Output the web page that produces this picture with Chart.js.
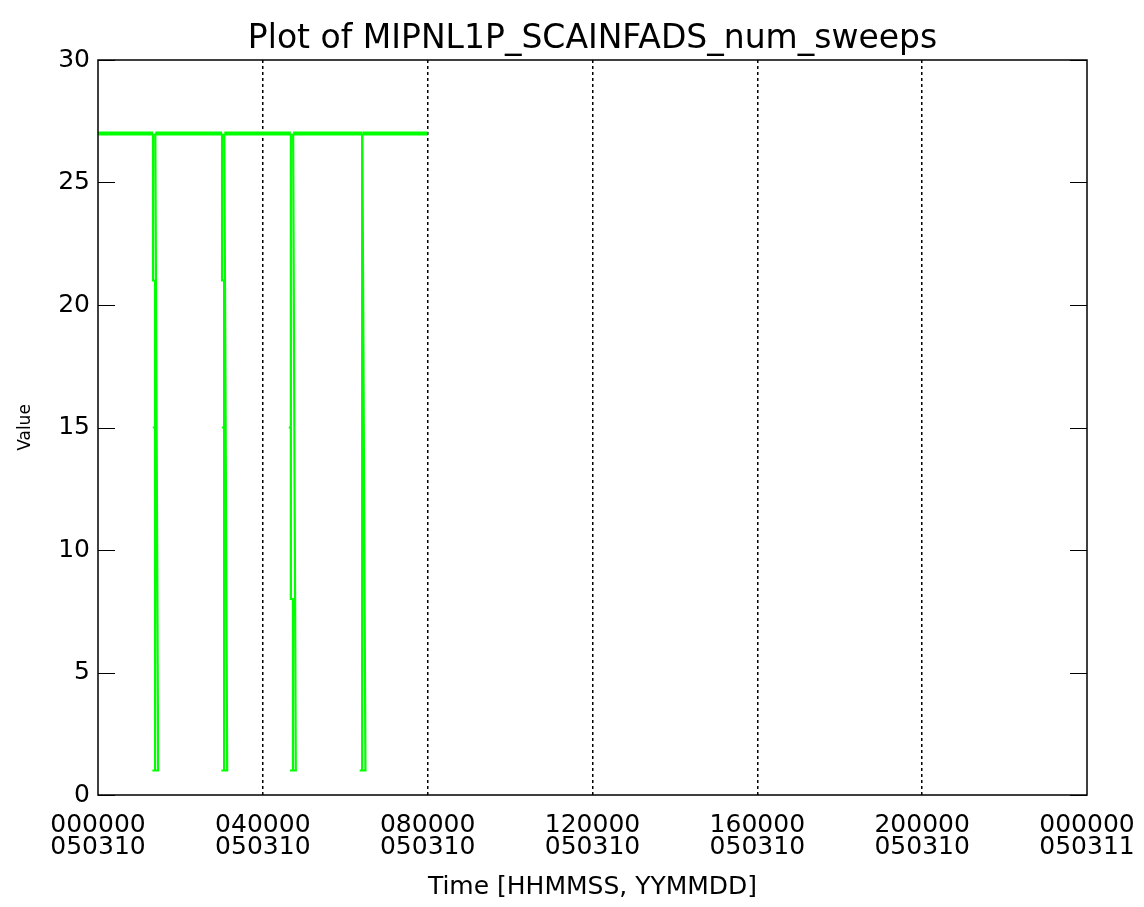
<!DOCTYPE html>
<html>
<head>
<meta charset="utf-8">
<script src="https://cdn.jsdelivr.net/npm/chart.js@4"></script>
<style>
  body { margin: 0; background: #fff; }
</style>
</head>
<body>
<canvas id="graphCanvas" width="1144" height="907"></canvas>
<script>
// time in hours since 000000 050310, value of num_sweeps
var sweepTimes = [
    0.00,
    1.335, 1.335, 1.385, 1.385, 1.33, 1.385, 1.385, 1.32, 1.46, 1.39,
    3.01, 3.01, 3.06, 3.06, 3.005, 3.06, 3.06, 2.995, 3.135, 3.065,
    4.68, 4.68, 4.63, 4.68, 4.68, 4.73, 4.73, 4.66, 4.80, 4.735,
    6.41, 6.41, 6.47, 6.41, 6.41, 6.35, 6.49, 6.415,
    8.00
];
var sweepValues = [
    27,
    27, 21, 21, 15, 15, 15, 1, 1, 1, 27,
    27, 21, 21, 15, 15, 15, 1, 1, 1, 27,
    27, 15, 15, 15, 8, 8, 1, 1, 1, 27,
    27, 15, 15, 15, 1, 1, 1, 27,
    27
];

var xTicks = [0, 4, 8, 12, 16, 20, 24];
var xTickTime = ['000000', '040000', '080000', '120000', '160000', '200000', '000000'];
var xTickDate = ['050310', '050310', '050310', '050310', '050310', '050310', '050311'];
var yTicks = [0, 5, 10, 15, 20, 25, 30];

var points = [];
for (var i in sweepTimes) {
    points.push({ x: sweepTimes[i], y: sweepValues[i] });
}

// box round the plot plus inward tick marks on both value sides
var framePlugin = {
    id: 'frame',
    afterDraw: function (chart) {
        var ctx = chart.ctx;
        var a = chart.chartArea;
        var ys = chart.scales.y;
        ctx.save();
        ctx.strokeStyle = '#000';
        ctx.lineWidth = 1.5;
        ctx.setLineDash([]);
        ctx.strokeRect(a.left, a.top, a.right - a.left, a.bottom - a.top);
        ctx.beginPath();
        yTicks.forEach(function (v) {
            var py = Math.round(ys.getPixelForValue(v)) + 0.5;
            ctx.moveTo(a.left, py);
            ctx.lineTo(a.left + 17, py);
            ctx.moveTo(a.right, py);
            ctx.lineTo(a.right - 17, py);
        });
        ctx.lineWidth = 1;
        ctx.stroke();
        ctx.restore();
    }
};

new Chart(document.getElementById('graphCanvas'), {
    type: 'scatter',
    data: {
        datasets: [{
            label: 'num_sweeps',
            data: points,
            showLine: true,
            borderColor: '#00ff00',
            borderWidth: 2.2,
            pointRadius: 0,
            tension: 0,
            segment: {
                borderWidth: function (c) {
                    return (c.p0.parsed.y === 27 && c.p1.parsed.y === 27) ? 4 : 2.2;
                }
            }
        }]
    },
    options: {
        responsive: false,
        animation: false,
        devicePixelRatio: 1,
        layout: { padding: { left: 0, right: 57, top: 0, bottom: 0 } },
        plugins: {
            legend: { display: false },
            tooltip: { enabled: false },
            title: { display: false }
        },
        scales: {
            // top axis carries the plot title so it centres over the plot box
            top: {
                type: 'linear',
                position: 'top',
                min: 0,
                max: 24,
                afterFit: function (scale) {
                    scale.height = 60;
                    scale.paddingLeft = 0;
                    scale.paddingRight = 0;
                },
                ticks: { display: false },
                grid: { display: false, drawTicks: false },
                border: { display: false },
                title: {
                    display: true,
                    text: 'Plot of MIPNL1P_SCAINFADS_num_sweeps',
                    color: '#000',
                    font: { family: 'DejaVu Sans', size: 33 },
                    padding: { top: 20, bottom: 0 }
                }
            },
            x: {
                type: 'linear',
                min: 0,
                max: 24,
                afterBuildTicks: function (scale) {
                    scale.ticks = xTicks.map(function (v) { return { value: v }; });
                },
                afterFit: function (scale) {
                    scale.height = 112;
                    scale.paddingLeft = 0;
                    scale.paddingRight = 0;
                },
                ticks: {
                    color: '#000',
                    font: { family: 'DejaVu Sans', size: 25, lineHeight: 0.9 },
                    padding: 19,
                    maxRotation: 0,
                    autoSkip: false,
                    callback: function (value, index) {
                        return [xTickTime[index], xTickDate[index]];
                    }
                },
                grid: {
                    drawTicks: false,
                    color: function (c) {
                        return (c.tick && c.tick.value > 0 && c.tick.value < 24) ? '#000' : 'rgba(0,0,0,0)';
                    },
                    lineWidth: 1.5
                },
                border: { display: false, dash: [3, 3] },
                title: {
                    display: true,
                    text: 'Time [HHMMSS, YYMMDD]',
                    color: '#000',
                    font: { family: 'DejaVu Sans', size: 25 },
                    padding: { top: 4, bottom: 5 }
                }
            },
            y: {
                min: 0,
                max: 30,
                afterBuildTicks: function (scale) {
                    scale.ticks = yTicks.map(function (v) { return { value: v }; });
                },
                afterFit: function (scale) { scale.width = 98; },
                ticks: {
                    color: '#000',
                    font: { family: 'DejaVu Sans', size: 25 },
                    padding: 8
                },
                grid: { display: false, drawTicks: false },
                border: { display: false },
                title: {
                    display: true,
                    text: 'Value',
                    color: '#000',
                    font: { family: 'DejaVu Sans', size: 17 },
                    padding: { top: 15, bottom: 0 }
                }
            }
        }
    },
    plugins: [framePlugin]
});
</script>
</body>
</html>
